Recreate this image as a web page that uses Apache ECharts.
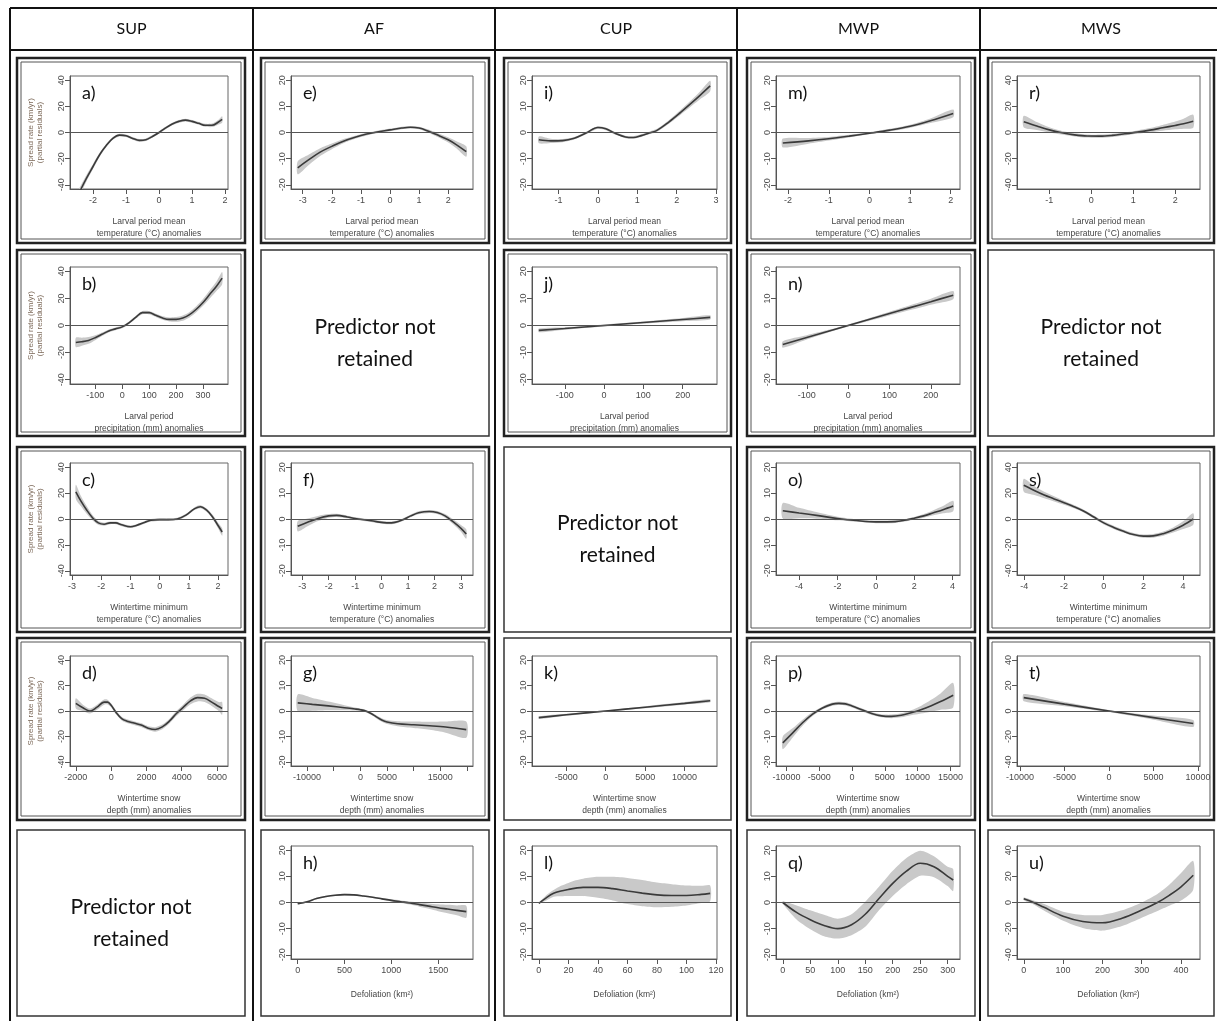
<!DOCTYPE html>
<html><head><meta charset="utf-8">
<script src="https://cdn.jsdelivr.net/npm/echarts@6/dist/echarts.min.js"></script>
<style>html,body{margin:0;padding:0;background:#fff}#c{width:1217px;height:1021px}</style>
</head><body><div id="c"></div>
<script>
// ---------- text ----------
const headers = ['SUP', 'AF', 'CUP', 'MWP', 'MWS'];
const notRetainedText = 'Predictor not\nretained';
const T_TEMP = 'Larval period mean\ntemperature (°C) anomalies';
const T_PREC = 'Larval period\nprecipitation (mm) anomalies';
const T_WMIN = 'Wintertime minimum\ntemperature (°C) anomalies';
const T_SNOW = 'Wintertime snow\ndepth (mm) anomalies';
const T_DEF = 'Defoliation (km²)';
const Y_TITLE = 'Spread rate (km/yr)\n(partial residuals)';
const y40 = [-40, -20, 0, 20, 40];
const y20 = [-20, -10, 0, 10, 20];

// ---------- data (x, fitted value, half-width of band) ----------
const aX = [-2.52,-2.36,-2.2,-2.0,-1.8,-1.6,-1.4,-1.2,-1.0,-0.8,-0.6,-0.4,-0.2,0,0.2,0.4,0.6,0.8,1.0,1.2,1.4,1.6,1.8,1.91];
const aFit = [-52,-43,-35,-26,-17,-10,-4.5,-2,-2.5,-4.5,-6,-5.5,-3,0,3.5,6.5,8.5,9.5,8.5,7,5.5,5.5,8,10];
const aSE = [4,3,2.5,2,1.5,1.2,1,1,1,1,1,1,1,1,1,1,1,1,1,1,1.1,1.3,1.8,2.5];
const aTicks = [-2,-1,0,1,2];

const bX = [-172,-150,-125,-100,-75,-50,-25,0,25,50,75,100,125,150,175,200,225,250,275,300,325,350,371];
const bFit = [-12.5,-12,-11,-9,-6.5,-4,-2.5,-1,2,6,9.5,9.5,7.5,5.5,4.5,4.5,5.5,8,12,17,23,29,35];
const bSE = [3.5,3,2.5,1.8,1.3,1.1,1,1,1,1.1,1.2,1.2,1.2,1.3,1.5,1.7,1.9,2,2.2,2.5,3,3.5,4.5];
const bTicks = [-100,0,100,200,300];

const cX = [-2.87,-2.7,-2.5,-2.3,-2.1,-1.9,-1.7,-1.5,-1.3,-1.0,-0.8,-0.5,-0.3,0,0.3,0.6,0.9,1.2,1.4,1.6,1.8,2.0,2.14];
const cFit = [21,14,7,1,-3,-4,-3,-3,-4.5,-6,-5,-2.5,-1,-0.5,-0.5,0,3,8,9.5,7,2,-5,-10];
const cSE = [5.5,4,3,2,1.5,1.2,1,1,1,1,1,1,1,1,1,1,1,1.1,1.2,1.3,1.6,2.2,3];
const cTicks = [-3,-2,-1,0,1,2];

const dX = [-2000,-1600,-1200,-800,-400,-200,0,300,600,900,1300,1700,2100,2500,2900,3300,3700,4100,4500,4900,5300,5700,6100,6294];
const dFit = [6,2.5,0,3,7,7,4.5,-1.5,-6,-8,-9.5,-11,-13.5,-14.5,-12.5,-8,-2,3,8,10.5,10,7,3.5,2];
const dSE = [4,2.5,2,2,2,1.8,1.5,1.5,1.5,1.5,1.5,1.5,1.5,1.8,1.8,1.8,2,2.2,2.6,3,3,3,3.5,5];
const dTicks = [-2000,0,2000,4000,6000];

const eX = [-3.17,-2.8,-2.4,-2.0,-1.6,-1.2,-0.8,-0.4,0,0.4,0.7,1.0,1.3,1.6,2.0,2.3,2.62];
const eFit = [-13.5,-10.5,-7.5,-5.3,-3.3,-1.8,-0.6,0.3,1,1.7,2,1.7,0.6,-0.8,-2.8,-4.8,-7.3];
const eSE = [2.5,2,1.5,1.1,0.8,0.6,0.5,0.5,0.5,0.5,0.5,0.5,0.6,0.7,1,1.4,2];
const eTicks = [-3,-2,-1,0,1,2];

const fX = [-3.17,-2.8,-2.4,-2.0,-1.7,-1.3,-1.0,-0.6,-0.2,0.2,0.5,0.8,1.1,1.4,1.8,2.1,2.4,2.7,3.0,3.2];
const fFit = [-2.8,-1.3,0.2,1.2,1.4,0.8,0.2,-0.4,-1,-1.5,-1.3,-0.3,1.2,2.4,2.9,2.5,1.2,-1,-3.6,-5.8];
const fSE = [2,1.5,1,0.7,0.6,0.5,0.5,0.5,0.5,0.5,0.5,0.5,0.5,0.6,0.6,0.6,0.7,0.9,1.3,1.8];
const fTicks = [-3,-2,-1,0,1,2,3];

const gX = [-11754,-9000,-6000,-3000,-1000,0,1000,2000,3000,4000,5000,7000,10000,13000,16000,19867];
const gFit = [3.2,2.6,2,1.3,0.8,0.5,0,-1,-2.3,-3.5,-4.3,-5,-5.4,-5.8,-6.3,-7.3];
const gSE = [3.3,2.5,1.7,1,0.6,0.5,0.5,0.5,0.6,0.7,0.8,1,1.3,1.6,2.2,3.2];
const gTicks = [-10000,-5000,0,5000,10000,15000,20000];
const gLabels = [-10000,0,5000,15000];

const hX = [0,100,200,300,400,500,600,700,800,900,1000,1100,1200,1300,1400,1500,1600,1700,1800];
const hFit = [-0.5,0.3,1.5,2.3,2.8,3,2.9,2.5,2,1.4,0.8,0.3,-0.2,-0.8,-1.4,-2,-2.5,-3,-3.5];
const hSE = [0.3,0.3,0.3,0.3,0.3,0.3,0.3,0.3,0.3,0.3,0.4,0.5,0.6,0.8,1,1.3,1.6,1.9,2.3];
const hTicks = [0,500,1000,1500];

const iX = [-1.5,-1.2,-0.9,-0.6,-0.3,0,0.2,0.45,0.7,0.9,1.1,1.3,1.5,1.8,2.1,2.4,2.6,2.85];
const iFit = [-2.8,-3.2,-3.1,-2.2,-0.2,1.9,1.4,-0.4,-1.7,-1.9,-1.2,-0.2,0.8,4,7.7,11.6,14.3,17.8];
const iSE = [1.3,0.8,0.6,0.5,0.5,0.5,0.5,0.5,0.5,0.5,0.5,0.5,0.6,0.7,0.9,1.2,1.5,2];
const iTicks = [-1,0,1,2,3];

const jX = [-166,-100,0,100,200,270];
const jFit = [-1.8,-1.1,0,1.1,2.2,3];
const jSE = [0.7,0.5,0.4,0.4,0.6,0.8];
const jTicks = [-100,0,100,200];

const kX = [-8481,-5000,0,5000,10000,13241];
const kFit = [-2.6,-1.5,0,1.5,3,4];
const kSE = [0.5,0.4,0.3,0.4,0.5,0.6];
const kTicks = [-5000,0,5000,10000];

const lX = [0,5,10,15,20,25,30,40,50,60,70,80,90,100,110,116];
const lFit = [-0.3,1.8,3.5,4.4,5,5.5,5.8,5.8,5.3,4.4,3.6,2.9,2.7,2.7,3.1,3.5];
const lSE = [0.2,1,1.3,2,2.5,3,3.3,4,4.5,5,5,4.7,4.3,3.8,3.3,3];
const lTicks = [0,20,40,60,80,100,120];

const mX = [-2.13,-1.5,-1,-0.5,0,0.5,1,1.5,2.06];
const mFit = [-4,-3.2,-2.4,-1.4,-0.3,0.9,2.4,4.5,7.3];
const mSE = [1.7,1.1,0.7,0.5,0.4,0.5,0.6,0.9,1.5];
const mTicks = [-2,-1,0,1,2];

const nX = [-158,-100,-50,0,50,100,150,200,254];
const nFit = [-7,-4.4,-2.2,0,2.2,4.4,6.6,8.8,11.2];
const nSE = [1.2,0.8,0.5,0.4,0.5,0.7,0.9,1.1,1.5];
const nTicks = [-100,0,100,200];

const oX = [-4.85,-4,-3,-2,-1,0,1,1.5,2,2.5,3,3.5,4.03];
const oFit = [3.2,2.3,1.3,0.2,-0.6,-1.1,-1,-0.5,0.3,1.2,2.4,3.6,5];
const oSE = [3,2,1.2,0.7,0.5,0.5,0.5,0.5,0.5,0.7,1,1.4,2];
const oTicks = [-4,-2,0,2,4];

const pX = [-10546,-9000,-7500,-6000,-4500,-3000,-2000,-1000,0,1500,3000,4500,6000,7500,9000,10500,12000,13500,15424];
const pFit = [-12.5,-8.5,-4.5,-1.2,1.2,2.7,3,2.8,2,0.5,-1,-1.9,-2.1,-1.7,-0.7,0.5,2,3.7,6.2];
const pSE = [2.5,1.8,1.2,0.8,0.6,0.6,0.6,0.6,0.6,0.6,0.6,0.6,0.7,0.8,1,1.5,2.3,3.2,4.8];
const pTicks = [-10000,-5000,0,5000,10000,15000];

const qX = [0,25,50,75,100,125,150,175,200,225,250,275,300,310];
const qFit = [0,-3.8,-6.6,-8.8,-10,-8.5,-4.5,1.5,7.3,12,15,13.7,10,8.6];
const qSE = [0.5,2.7,3.6,4.1,3.8,4,4.8,4.5,4.8,5,4.8,4,3.7,4.2];
const qTicks = [0,50,100,150,200,250,300];

const rX = [-1.61,-1.3,-1,-0.7,-0.4,-0.1,0.2,0.5,0.8,1.1,1.4,1.7,2.0,2.2,2.43];
const rFit = [8.3,5,2,-0.2,-1.8,-2.7,-2.8,-2.2,-1,0.3,1.8,3.6,5.4,6.7,8.6];
const rSE = [4.5,3,2,1.4,1.2,1.2,1.2,1.2,1.2,1.3,1.6,2.2,3,3.8,5];
const rTicks = [-1,0,1,2];

const sX = [-4.03,-3.5,-3,-2.5,-2,-1.5,-1,-0.5,0,0.5,1,1.5,2,2.5,3,3.5,4,4.51];
const sFit = [26,22,18.5,15.5,12.5,9.5,6,1.5,-3,-6.5,-9.5,-12,-13.2,-13,-11.3,-8.5,-4.8,0];
const sSE = [5,3.5,2.5,2,1.6,1.3,1.2,1.2,1.2,1.2,1.2,1.2,1.3,1.4,1.6,2,3,4.5];
const sTicks = [-4,-2,0,2,4];

const tX = [-9579,-5000,0,5000,9465];
const tFit = [10.5,5.4,0,-5.2,-9.8];
const tSE = [2.8,1.6,0.8,1.6,2.8];
const tTicks = [-10000,-5000,0,5000,10000];

const uX = [0,25,50,100,150,200,250,300,340,370,400,431];
const uFit = [2.8,0,-3.5,-10.5,-14.5,-15.5,-12,-5.8,0,5.5,12,20.8];
const uSE = [1,1.5,2.5,3.5,5,6,6,5.8,6.5,8,10.5,11];
const uTicks = [0,100,200,300,400];

// ---------- panel list ----------
const panels = [
  {id:'a)',col:0,row:0,x:aX,fit:aFit,se:aSE,ticks:aTicks,labels:aTicks,yT:y40,title:T_TEMP,frame:2},
  {id:'b)',col:0,row:1,x:bX,fit:bFit,se:bSE,ticks:bTicks,labels:bTicks,yT:y40,title:T_PREC,frame:2},
  {id:'c)',col:0,row:2,x:cX,fit:cFit,se:cSE,ticks:cTicks,labels:cTicks,yT:y40,title:T_WMIN,frame:2},
  {id:'d)',col:0,row:3,x:dX,fit:dFit,se:dSE,ticks:dTicks,labels:dTicks,yT:y40,title:T_SNOW,frame:2},
  {id:'e)',col:1,row:0,x:eX,fit:eFit,se:eSE,ticks:eTicks,labels:eTicks,yT:y20,title:T_TEMP,frame:2},
  {id:'f)',col:1,row:2,x:fX,fit:fFit,se:fSE,ticks:fTicks,labels:fTicks,yT:y20,title:T_WMIN,frame:2},
  {id:'g)',col:1,row:3,x:gX,fit:gFit,se:gSE,ticks:gTicks,labels:gLabels,yT:y20,title:T_SNOW,frame:2},
  {id:'h)',col:1,row:4,x:hX,fit:hFit,se:hSE,ticks:hTicks,labels:hTicks,yT:y20,title:T_DEF,frame:1},
  {id:'i)',col:2,row:0,x:iX,fit:iFit,se:iSE,ticks:iTicks,labels:iTicks,yT:y20,title:T_TEMP,frame:2},
  {id:'j)',col:2,row:1,x:jX,fit:jFit,se:jSE,ticks:jTicks,labels:jTicks,yT:y20,title:T_PREC,frame:2},
  {id:'k)',col:2,row:3,x:kX,fit:kFit,se:kSE,ticks:kTicks,labels:kTicks,yT:y20,title:T_SNOW,frame:1},
  {id:'l)',col:2,row:4,x:lX,fit:lFit,se:lSE,ticks:lTicks,labels:lTicks,yT:y20,title:T_DEF,frame:1},
  {id:'m)',col:3,row:0,x:mX,fit:mFit,se:mSE,ticks:mTicks,labels:mTicks,yT:y20,title:T_TEMP,frame:2},
  {id:'n)',col:3,row:1,x:nX,fit:nFit,se:nSE,ticks:nTicks,labels:nTicks,yT:y20,title:T_PREC,frame:2},
  {id:'o)',col:3,row:2,x:oX,fit:oFit,se:oSE,ticks:oTicks,labels:oTicks,yT:y20,title:T_WMIN,frame:2},
  {id:'p)',col:3,row:3,x:pX,fit:pFit,se:pSE,ticks:pTicks,labels:pTicks,yT:y20,title:T_SNOW,frame:2},
  {id:'q)',col:3,row:4,x:qX,fit:qFit,se:qSE,ticks:qTicks,labels:qTicks,yT:y20,title:T_DEF,frame:1},
  {id:'r)',col:4,row:0,x:rX,fit:rFit,se:rSE,ticks:rTicks,labels:rTicks,yT:y40,title:T_TEMP,frame:2},
  {id:'s)',col:4,row:2,x:sX,fit:sFit,se:sSE,ticks:sTicks,labels:sTicks,yT:y40,title:T_WMIN,frame:2},
  {id:'t)',col:4,row:3,x:tX,fit:tFit,se:tSE,ticks:tTicks,labels:tTicks,yT:y40,title:T_SNOW,frame:2},
  {id:'u)',col:4,row:4,x:uX,fit:uFit,se:uSE,ticks:uTicks,labels:uTicks,yT:y40,title:T_DEF,frame:1}
];
const notRetained = [[1,1],[4,1],[2,2],[0,4]]; // [col,row]

// ---------- layout ----------
const tableX = [10, 253, 495, 737, 980];
const tableTop = 8, headerBottom = 50;
const colFrame = [[17,245],[261,489],[504,731],[747,975],[988,1214]];
const rowFrame = [[58,243],[250,436],[447,632],[638,820],[830,1016]];
const colBox = [[70,228],[291,473],[532,717],[776,960],[1017,1200]];
const rowBox = [[76,189],[267,384],[463,575],[656,766],[846,959]];

const AX_COLOR = '#555';
const LBL = {fontFamily:'Liberation Sans, Arial, sans-serif', fontSize:9, color:'#4a4a4a', formatter:(v) => String(v)};

const grids = [], xAxes = [], yAxes = [], series = [], graphics = [];

// table lines
tableX.forEach(x => graphics.push({type:'line', shape:{x1:x,y1:tableTop,x2:x,y2:1021}, style:{stroke:'#111', lineWidth:2}, z:10}));
[tableTop, headerBottom].forEach(y => graphics.push({type:'line', shape:{x1:tableX[0],y1:y,x2:1217,y2:y}, style:{stroke:'#111', lineWidth:2}, z:10}));
headers.forEach((h, i) => {
  const x0 = tableX[i], x1 = i < 4 ? tableX[i+1] : 1222;
  graphics.push({type:'text', x:(x0+x1)/2, y:(tableTop+headerBottom)/2,
    style:{text:h, fontFamily:'Lato, Open Sans, sans-serif', fontSize:16, fill:'#111', align:'center', verticalAlign:'middle'}, z:10});
});

function frame(col, row, kind) {
  const [x0, x1] = colFrame[col], [y0, y1] = rowFrame[row];
  if (kind === 2) {
    graphics.push({type:'rect', shape:{x:x0, y:y0, width:x1-x0, height:y1-y0}, style:{fill:'none', stroke:'#222', lineWidth:2.5}, z:10});
    graphics.push({type:'rect', shape:{x:x0+4, y:y0+4, width:x1-x0-8, height:y1-y0-8}, style:{fill:'none', stroke:'#555', lineWidth:1}, z:10});
  } else {
    graphics.push({type:'rect', shape:{x:x0, y:y0, width:x1-x0, height:y1-y0}, style:{fill:'none', stroke:'#333', lineWidth:1.5}, z:10});
  }
}

notRetained.forEach(([col,row]) => {
  frame(col, row, 1);
  const [x0, x1] = colFrame[col], [y0, y1] = rowFrame[row];
  graphics.push({type:'text', x:(x0+x1)/2, y:(y0+y1)/2,
    style:{text:notRetainedText, fontFamily:'Lato, Open Sans, sans-serif', fontSize:21, lineHeight:32, fill:'#111', align:'center', verticalAlign:'middle'}, z:10});
});

panels.forEach((p, i) => {
  frame(p.col, p.row, p.frame);
  const [bx0, bx1] = colBox[p.col], [by0, by1] = rowBox[p.row];
  grids.push({left:bx0, top:by0, width:bx1-bx0, height:by1-by0, show:true, borderColor:'#666', borderWidth:1, backgroundColor:'transparent', containLabel:false});
  const xmin = p.x[0], xmax = p.x[p.x.length-1], R = xmax - xmin;
  const yMax = p.yT[p.yT.length-1];
  xAxes.push({gridIndex:i, type:'value', min:xmin-0.04*R, max:xmax+0.04*R,
    axisLine:{show:true, onZero:false, lineStyle:{color:AX_COLOR, width:1}},
    axisTick:{show:true, customValues:p.ticks, length:5, lineStyle:{color:AX_COLOR}},
    axisLabel:Object.assign({customValues:p.labels, margin:7, showMinLabel:true, showMaxLabel:true, hideOverlap:false}, LBL),
    splitLine:{show:false},
    name:p.title, nameLocation:'middle', nameGap: p.title === T_DEF ? 30 : 27,
    nameTextStyle:{fontFamily:'Liberation Sans, Arial, sans-serif', fontSize:8.5, color:'#444', lineHeight:12, verticalAlign:'top'}
  });
  const ya = {gridIndex:i, type:'value', min:-yMax*1.08, max:yMax*1.08,
    axisLine:{show:true, onZero:false, lineStyle:{color:AX_COLOR, width:1}},
    axisTick:{show:true, customValues:p.yT, length:5, lineStyle:{color:AX_COLOR}},
    axisLabel:Object.assign({customValues:p.yT, margin:4, rotate:90, showMinLabel:true, showMaxLabel:true, hideOverlap:false}, LBL),
    splitLine:{show:false}};
  if (p.col === 0) {
    ya.name = Y_TITLE; ya.nameLocation = 'middle'; ya.nameGap = 25;
    ya.nameTextStyle = {fontFamily:'Liberation Sans, Arial, sans-serif', fontSize:8, lineHeight:9.5, color:'#7d6a5a'};
  }
  yAxes.push(ya);
  const xs = p.x, fit = p.fit, se = p.se;
  series.push({type:'custom', xAxisIndex:i, yAxisIndex:i, clip:true, silent:true, z:1,
    data:[[xs[0], fit[0]]], encode:{x:0, y:1},
    renderItem:(params, api) => {
      const up = xs.map((x, k) => api.coord([x, fit[k] + se[k]]));
      const lo = xs.map((x, k) => api.coord([x, fit[k] - se[k]])).reverse();
      return {type:'polygon', shape:{points:up.concat(lo), smooth:0.25}, style:{fill:'#c9c9c9', stroke:'none'}};
    }});
  series.push({type:'line', xAxisIndex:i, yAxisIndex:i, data:xs.map((x, k) => [x, fit[k]]),
    showSymbol:false, smooth:0.35, clip:true, silent:true, z:3,
    lineStyle:{color:'#3a3a3a', width:1.6},
    markLine:{silent:true, symbol:['none','none'], label:{show:false}, animation:false,
      lineStyle:{color:'#555', width:1, type:'solid'}, data:[{yAxis:0}]}});
  graphics.push({type:'text', x:bx0+12, y:by0+17,
    style:{text:p.id, fontFamily:'Lato, Open Sans, sans-serif', fontSize:18, fill:'#111', align:'left', verticalAlign:'middle'}, z:10});
});

const chart = echarts.init(document.getElementById('c'), null, {renderer:'canvas'});
chart.setOption({animation:false, backgroundColor:'#fff', grid:grids, xAxis:xAxes, yAxis:yAxes, series:series, graphic:graphics});
</script>
</body></html>
